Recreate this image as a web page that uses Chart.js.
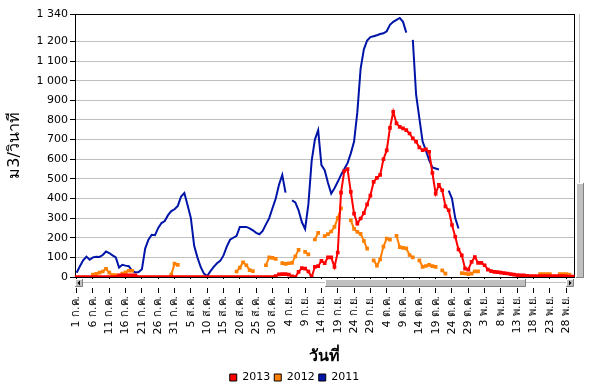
<!DOCTYPE html>
<html><head><meta charset="utf-8">
<script src="https://cdn.jsdelivr.net/npm/chart.js@4.4.0/dist/chart.umd.min.js"></script>
<style>html,body{margin:0;padding:0;background:#fff}#wrap{width:589px;height:387px}</style>
</head><body><div id="wrap"><canvas id="c" width="589" height="387"></canvas></div>
<script>
const n = null;
const monthNames = ['ก.ค.','ส.ค.','ก.ย.','ต.ค.','พ.ย.'];
const monthDays = [31,31,30,31,30];
const categories = [];
monthNames.forEach((m, k) => { for (let d = 1; d <= monthDays[k]; d++) categories.push(d + ' ' + m); });
const yTicks = [0,100,200,300,400,500,600,700,800,900,1000,1100,1200,1340];
const seriesNames = ['2013','2012','2011'];

const s2013 = [
 0,0,0,0,0,0,0,0,0,0,
 0,0,0,8,8,8,8,8,8,0,
 0,0,0,0,0,0,0,0,0,0,
 0,0,0,0,0,0,0,0,0,0,
 0,0,0,0,0,0,0,0,0,0,
 0,0,0,0,0,0,0,0,0,0,
 0,5,13,15,15,12,3,0,26,45,
 43,28,0,52,55,82,70,100,100,51,
 125,430,540,550,434,323,272,298,325,370,
 415,485,505,520,600,645,760,842,783,765,
 757,748,731,706,690,660,646,650,638,530,
 425,470,442,360,340,265,205,140,111,43,
 38,77,102,72,72,60,38,30,26,25,
 22,20,18,15,12,10,8,8,6,5,
 5,5,5,5,5,5,5,5,5,5,
 3,2,2];
const s2012 = [
 n,n,n,n,n,12,16,22,28,42,
 22,10,10,n,18,24,32,32,n,n,
 n,n,n,n,n,n,n,n,n,12,
 68,62,n,n,n,n,n,n,n,n,
 n,n,n,n,n,n,n,n,n,28,
 48,75,60,35,30,n,n,n,60,100,
 97,92,n,71,67,70,72,105,138,n,
 128,115,n,191,225,n,208,218,232,255,
 300,350,n,n,289,245,230,220,184,145,
 n,85,58,90,155,196,190,n,210,152,
 148,146,112,100,n,85,52,56,62,55,
 52,n,34,17,n,n,n,n,20,18,
 15,17,29,29,n,n,n,n,n,n,
 n,n,n,n,n,n,n,n,n,n,
 n,n,15,15,15,15,n,n,15,15,
 15,12,n];
const s2011 = [
 22,55,85,104,88,100,103,102,112,130,
 122,110,100,48,62,58,55,32,23,25,
 40,145,190,215,213,250,275,285,315,336,
 345,362,410,428,365,300,160,100,51,17,
 5,30,52,70,82,110,155,190,200,210,
 255,255,255,248,238,225,218,235,268,300,
 350,400,470,520,430,n,390,380,340,280,
 245,370,590,700,748,570,544,480,425,452,
 485,520,550,580,630,690,840,1060,1160,1205,
 1222,1227,1232,1238,1242,1252,1285,1300,1310,1320,
 1300,1245,n,1208,930,810,690,645,595,558,
 553,548,n,n,440,400,300,247,n,n,
 n,n,n,n,n,n,n,n,n,n,
 n,n,n,n,n,n,n,n,n,n,
 n,n,n,n,n,n,n,n,n,n,
 n,n,n];

const FONT = 'DejaVu Sans, Tahoma, Noto Sans, sans-serif';
const AREA_BOTTOM = 277;
const BOTTOM_PAD = -6;

const decor = {
  id: 'decor',
  beforeDatasetsDraw(chart) {
    const {ctx, chartArea: a} = chart;
    ctx.save();
    ctx.strokeStyle = '#000'; ctx.lineWidth = 1;
    ctx.beginPath();
    ctx.moveTo(Math.round(a.right) + 0.5, a.top); ctx.lineTo(Math.round(a.right) + 0.5, a.bottom);
    ctx.stroke();
    ctx.restore();
  },
  afterDraw(chart) {
    const {ctx, chartArea: a} = chart;
    const L = Math.round(a.left), R = Math.round(a.right), B = Math.round(a.bottom);
    ctx.save();
    ctx.fillStyle = '#fff';
    ctx.fillRect(L, B + 2, R - L + 12, 9);
    ctx.strokeStyle = '#c0c0c0'; ctx.lineWidth = 1;
    ctx.beginPath(); ctx.moveTo(L, B + 5.5); ctx.lineTo(R, B + 5.5); ctx.stroke();
    function btn(x, y, w, h) {
      ctx.fillStyle = '#c0c0c0'; ctx.fillRect(x, y, w, h);
      ctx.strokeStyle = '#fff'; ctx.beginPath();
      ctx.moveTo(x + 0.5, y + h); ctx.lineTo(x + 0.5, y + 0.5); ctx.lineTo(x + w, y + 0.5); ctx.stroke();
      ctx.strokeStyle = '#808080'; ctx.beginPath();
      ctx.moveTo(x + w - 0.5, y); ctx.lineTo(x + w - 0.5, y + h - 0.5); ctx.lineTo(x, y + h - 0.5); ctx.stroke();
    }
    const y0 = B + 2;
    btn(L, y0, 8, 8);
    ctx.fillStyle = '#000'; ctx.beginPath();
    ctx.moveTo(L + 2.5, y0 + 4); ctx.lineTo(L + 5, y0 + 1.5); ctx.lineTo(L + 5, y0 + 6.5); ctx.closePath(); ctx.fill();
    btn(R - 8, y0, 8, 8);
    ctx.fillStyle = '#000'; ctx.beginPath();
    ctx.moveTo(R - 2.5, y0 + 4); ctx.lineTo(R - 5, y0 + 1.5); ctx.lineTo(R - 5, y0 + 6.5); ctx.closePath(); ctx.fill();
    btn(325, y0, 201, 8);
    ctx.strokeStyle = '#c0c0c0';
    ctx.beginPath(); ctx.moveTo(R + 5.5, a.top); ctx.lineTo(R + 5.5, 183); ctx.stroke();
    btn(R + 2, 183, 8, B - 183 + 1);
    ctx.restore();
  }
};

new Chart(document.getElementById('c'), {
  type: 'line',
  data: {
    labels: categories,
    datasets: [
      {label: seriesNames[0], data: s2013, borderColor: '#ff0000', backgroundColor: '#ff0000',
       borderWidth: 2, pointStyle: 'rect', pointRadius: 2.6, pointBorderWidth: 0,
       pointBackgroundColor: '#ff0000', tension: 0, spanGaps: false},
      {label: seriesNames[1], data: s2012, borderColor: '#ff8000', backgroundColor: '#ff8000',
       borderWidth: 2, pointStyle: 'rect', pointRadius: 2.6, pointBorderWidth: 0,
       pointBackgroundColor: '#ff8000', tension: 0, spanGaps: false},
      {label: seriesNames[2], data: s2011, borderColor: '#0014a8', backgroundColor: '#0014a8',
       borderWidth: 2, pointRadius: 0, tension: 0, spanGaps: false}
    ]
  },
  options: {
    responsive: false, animation: false, devicePixelRatio: 1,
    layout: {padding: {left: 0, right: 0, top: 14, bottom: BOTTOM_PAD}},
    plugins: {
      tooltip: {enabled: false},
      legend: {
        position: 'bottom',
        labels: {
          boxWidth: 7, boxHeight: 7, padding: 4, color: '#000',
          font: {family: FONT, size: 11},
          generateLabels(chart) {
            return chart.data.datasets.map((ds, i) => ({
              text: ds.label, fillStyle: ds.borderColor, strokeStyle: '#000',
              lineWidth: 1, hidden: false, datasetIndex: i, fontColor: '#000'
            }));
          }
        }
      }
    },
    scales: {
      x: {
        type: 'category', offset: true,
        afterFit(s) { s.height = 387 - BOTTOM_PAD - AREA_BOTTOM - (s.chart.legend ? s.chart.legend.height : 20); },
        grid: {display: true, drawOnChartArea: false, offset: false, tickLength: 16,
               color: c => (c.index % 5 === 0 ? '#000' : 'rgba(0,0,0,0)')},
        border: {display: true, color: '#000'},
        ticks: {autoSkip: false, maxRotation: 90, minRotation: 90, padding: 3, color: '#000',
                font: {family: FONT, size: 11},
                callback: (v, i) => (i % 5 === 0 ? categories[i] : '')},
        title: {display: true, text: 'วันที่', color: '#000',
                font: {family: FONT, size: 16, weight: 'bold'}, padding: {top: 0, bottom: 2}}
      },
      y: {
        min: 0, max: 1340,
        afterFit(s) { s.width = 75; },
        afterBuildTicks(s) { s.ticks = yTicks.map(v => ({value: v})); },
        grid: {color: c => (c.tick && (c.tick.value === 1340 || c.tick.value === 0) ? '#000' : '#c0c0c0'),
               tickColor: '#000', tickLength: 5, lineWidth: 1},
        border: {display: true, color: '#000'},
        ticks: {color: '#000', padding: 2, font: {family: FONT, size: 11},
                callback: v => (v >= 1000 ? Math.floor(v / 1000) + ' ' + String(v % 1000).padStart(3, '0') : String(v))},
        title: {display: true, text: 'ม3/วินาที', color: '#000',
                font: {family: FONT, size: 16}, padding: {top: 5, bottom: 0}}
      },
      yr: {
        position: 'right', display: true,
        afterFit(s) { s.width = 14; },
        grid: {display: false, drawTicks: false}, border: {display: false},
        ticks: {display: false}
      }
    }
  },
  plugins: [decor]
});
</script>
</body></html>
